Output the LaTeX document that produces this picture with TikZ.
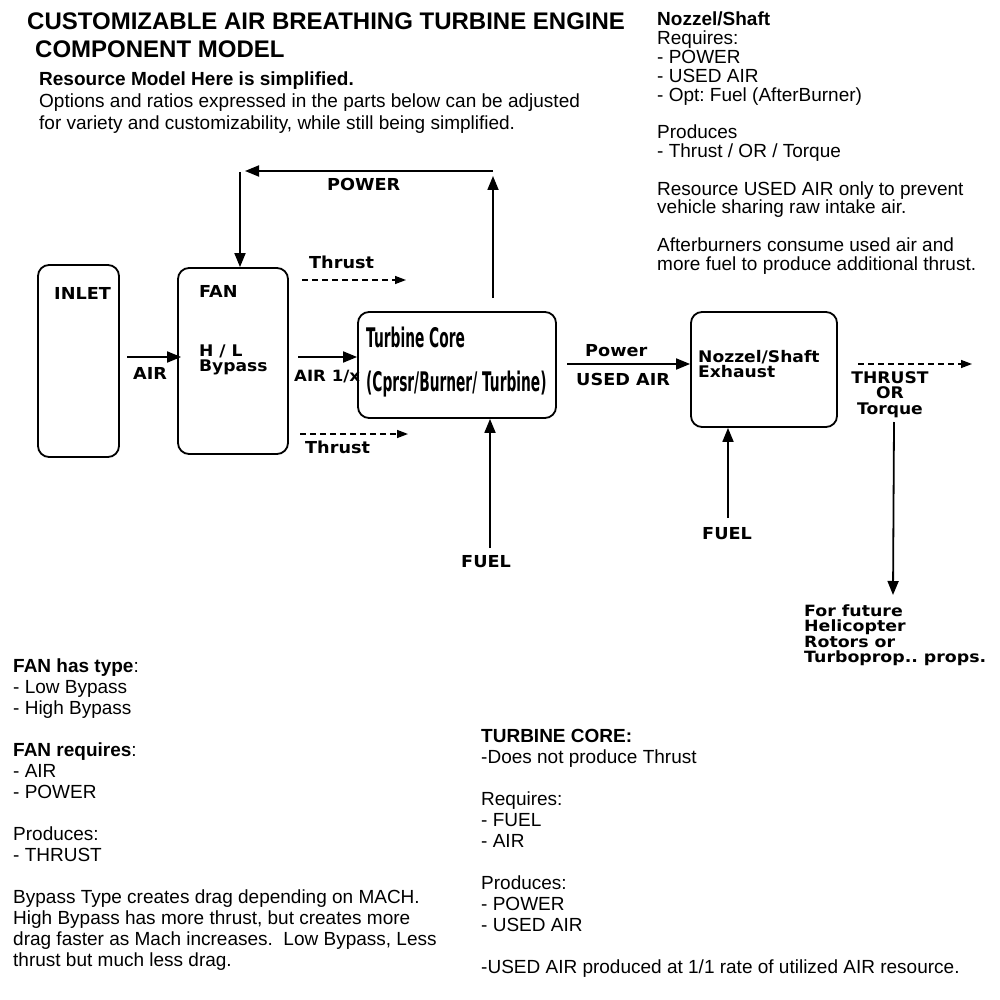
\documentclass[tikz,border=0pt]{standalone}
\usepackage{fontspec}
\setmainfont{Liberation Sans}
\newfontfamily\dfont{DejaVu Sans Bold}[FakeStretch=1.07]
\newfontfamily\ffont{DejaVu Sans Bold}[FakeStretch=1.12]
\newfontfamily\cfont{DejaVu Sans Bold}[FakeStretch=0.51]
\usetikzlibrary{arrows.meta}
\frenchspacing
\newcommand\lstack[1]{\vtop{\baselineskip=15.5pt\lineskiplimit=-50pt\lineskip=0pt\halign{##\hfil\cr #1\cr}}}
\newcommand\cstack[1]{\vtop{\baselineskip=15.5pt\lineskiplimit=-50pt\lineskip=0pt\halign{\hfil##\hfil\cr #1\cr}}}
\begin{document}
\begin{tikzpicture}[x=1pt,y=-1pt,
  box/.style={draw,line width=1.8pt,rounded corners=11pt,inner sep=0pt},
  dl/.style={anchor=base west,inner sep=0pt,font=\dfont\fontsize{16.5}{16.5}\selectfont},
  sl/.style={anchor=base west,inner sep=0pt,font=\dfont\fontsize{16}{16}\selectfont},
  cl/.style={anchor=base west,inner sep=0pt,font=\cfont\fontsize{27}{27}\selectfont},
  note/.style={anchor=base west,inner sep=0pt,font=\fontsize{19}{19}\selectfont},
  arr/.style={line width=1.8pt,-{Triangle[length=14pt,width=11pt]}},
  darr/.style={line width=1.4pt,dash pattern=on 6pt off 4pt,-{Triangle[length=11pt,width=8pt]}},
]
\useasboundingbox[fill=white] (0,0) rectangle (1000,1000);

% header text
\node[anchor=base west,inner sep=0pt,font=\bfseries\fontsize{24}{24}\selectfont] (title1) at (27,30) {CUSTOMIZABLE AIR BREATHING TURBINE ENGINE};
\node[anchor=base west,inner sep=0pt,font=\bfseries\fontsize{24}{24}\selectfont] (title2) at (35,58) {COMPONENT MODEL};
\node[note,font=\bfseries\fontsize{19}{19}\selectfont] (res) at (39,86) {Resource Model Here is simplified.};
\node[note] (opt1) at (39,108) {Options and ratios expressed in the parts below can be adjusted};
\node[note] (opt2) at (39,130) {for variety and customizability, while still being simplified.};

% top-right notes
\foreach \t [count=\i from 0] in {{\textbf{Nozzel/Shaft}},{Requires:},{- POWER},{- USED AIR},{- Opt: Fuel (AfterBurner)}}
  \node[note] (nr\i) at (657,26+\i*18.8) {\t};
\foreach \t [count=\i from 6] in {{Produces},{- Thrust / OR / Torque}}
  \node[note] (nr\i) at (657,26+\i*18.8) {\t};
\foreach \t [count=\i from 9] in {{Resource USED AIR only to prevent},{vehicle sharing raw intake air.}}
  \node[note] (nr\i) at (657,26+\i*18.8) {\t};
\foreach \t [count=\i from 12] in {{Afterburners consume used air and},{more fuel to produce additional thrust.}}
  \node[note] (nr\i) at (657,26+\i*18.8) {\t};

% bottom-left notes
\foreach \t [count=\i from 0] in {{\textbf{FAN has type}:},{- Low Bypass},{- High Bypass}}
  \node[note] (bl\i) at (13,672+\i*21) {\t};
\foreach \t [count=\i from 4] in {{\textbf{FAN requires}:},{- AIR},{- POWER}}
  \node[note] (bl\i) at (13,672+\i*21) {\t};
\foreach \t [count=\i from 8] in {{Produces:},{- THRUST}}
  \node[note] (bl\i) at (13,672+\i*21) {\t};
\foreach \t [count=\i from 11] in {{Bypass Type creates drag depending on MACH.},{High Bypass has more thrust, but creates more},{drag faster as Mach increases.\ \ Low Bypass, Less},{thrust but much less drag.}}
  \node[note] (bl\i) at (13,672+\i*21) {\t};

% bottom-right notes
\foreach \t [count=\i from 0] in {{\textbf{TURBINE CORE:}},{-Does not produce Thrust}}
  \node[note] (br\i) at (481,742+\i*21) {\t};
\foreach \t [count=\i from 3] in {{Requires:},{- FUEL},{- AIR}}
  \node[note] (br\i) at (481,742+\i*21) {\t};
\foreach \t [count=\i from 7] in {{Produces:},{- POWER},{- USED AIR}}
  \node[note] (br\i) at (481,742+\i*21) {\t};
\node[note] (br11) at (481,742+11*21) {-USED AIR produced at 1/1 rate of utilized AIR resource.};

% boxes
\node[box,minimum width=81pt,minimum height=192pt] (inlet) at (78.5,361) {};
\node[box,minimum width=110pt,minimum height=186pt] (fan) at (233,361) {};
\node[box,minimum width=198pt,minimum height=106pt] (core) at (457,365) {};
\node[box,minimum width=146pt,minimum height=115pt] (noz) at (764,369.5) {};

% box labels
\node[dl] (inletT) at (54,299) {INLET};
\node[dl] (fanT) at (199,297) {FAN};
\node[sl] (hl) at (199,356) {\lstack{H / L\cr Bypass}};
\node[cl] (coreT1) at (366,347) {Turbine Core};
\node[cl] (coreT2) at (366,391) {(Cprsr/Burner/ Turbine)};
\node[sl] (nozT) at (698,362) {\lstack{Nozzel/Shaft\cr Exhaust}};

% connectors
\coordinate (airS) at (127,357);
\draw[arr] (airS) -- ([xshift=4pt]fan.west |- airS);
\node[dl] (airT) at (133,379) {AIR};

\coordinate (a1S) at (298,357);
\draw[arr] (a1S) -- (core.west |- a1S);
\node[dl,font=\dfont\fontsize{15.5}{15.5}\selectfont] (air1x) at (294,381) {AIR 1/x};

\coordinate (tu1) at (302,280);
\coordinate (tu2) at (406,280);
\draw[darr] (tu1) -- (tu2);
\node[dl] (thU) at (309,268) {Thrust};

\coordinate (tl1) at (300,434);
\coordinate (tl2) at (408,434);
\draw[darr] (tl1) -- (tl2);
\node[dl] (thL) at (305,453) {Thrust};

\coordinate (pw1) at (493,298);
\coordinate (pw2) at (493,176);
\draw[arr] (pw1) -- (pw2);
\coordinate (ph1) at (493,171);
\coordinate (ph2) at (245,171);
\draw[arr] (ph1) -- (ph2);
\coordinate (pv1) at (240,172);
\draw[arr] (pv1) -- (pv1 |- fan.north);
\node[dl] (powT) at (327,191) {POWER};

\coordinate (fc) at (490,548);
\draw[arr] (fc) -- (fc |- core.south);
\node[dl] (fuelC) at (461,567) {FUEL};

\coordinate (pu) at (567,364);
\draw[arr] (pu) -- (pu -| noz.west);
\node[dl] (powL) at (585,356) {Power};
\node[dl] (usedL) at (576,385) {USED AIR};

\coordinate (fn) at (728,518);
\draw[arr] (fn) -- (fn |- noz.south);
\node[dl] (fuelN) at (702,539) {FUEL};

\coordinate (tt1) at (858,364);
\coordinate (tt2) at (972,364);
\draw[darr] (tt1) -- (tt2);
\node[sl,anchor=base] (thr) at (890,383) {\cstack{THRUST\cr OR\cr Torque}};

\coordinate (dd1) at (894,422);
\coordinate (dd2) at (893,595);
\draw[arr] (dd1) -- (dd2);
\node[dl,font=\ffont\fontsize{15.5}{15.5}\selectfont] (fut) at (804,616) {\lstack{For future\cr Helicopter\cr Rotors or\cr Turboprop.. props.}};
\end{tikzpicture}
\end{document}
